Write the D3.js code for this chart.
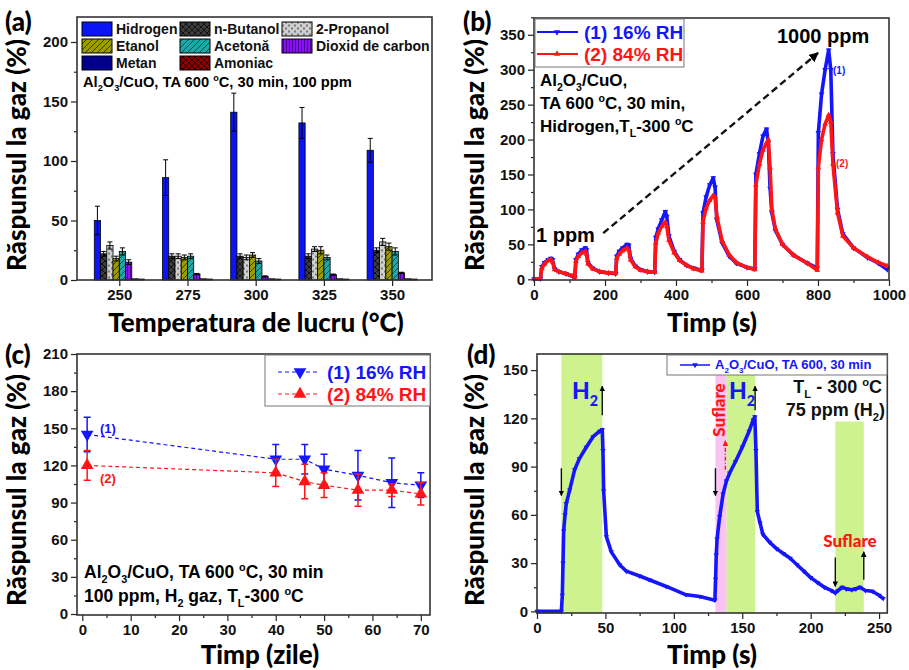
<!DOCTYPE html>
<html lang="ro">
<head>
<meta charset="utf-8"/>
<title>Raspunsul la gaz</title>
<script src="https://cdnjs.cloudflare.com/ajax/libs/d3/7.8.5/d3.min.js"></script>
<style>
  body {margin:0; background:#fff;}
  text {font-family:"Liberation Sans", Arial, sans-serif; font-weight:bold;}
  .ttl {font-family:Lato, "Open Sans", sans-serif; font-weight:900;}
</style>
</head>
<body>
<svg id="fig" width="909" height="670"></svg>
<script>
// ---- (a) raspuns vs temperatura
var temps = ["250","275","300","325","350"];
var gases = ["Hidrogen","n-Butanol","2-Propanol","Etanol","Acetonă","Dioxid de carbon","Metan","Amoniac"];
var hidrogen = [50, 86, 141, 132, 109],  hidrogenErr = [12, 15, 16, 13, 10];
var butanol  = [22, 20, 20, 20, 25],     butanolErr  = [2, 2, 2, 2, 2];
var propanol = [29, 20, 19, 26, 32],     propanolErr = [3, 2, 2, 2, 3];
var etanol   = [18, 19, 21, 25, 28],     etanolErr   = [2, 2, 2, 3, 3];
var acetona  = [24, 20, 16, 19, 24],     acetonaErr  = [3, 2, 2, 2, 3];
var co2      = [15, 5, 3, 4.5, 6],       co2Err      = [2, 0.5, 0.5, 0.5, 0.5];
var metan    = [1, 1, 1, 1, 1];
var amoniac  = [0.8, 0.8, 0.8, 0.8, 0.8];

// ---- (b) raspuns dinamic 1..1000 ppm
var bTime = [0,18,22,30,40,48,52,58,70,90,110,115,118,125,135,145,148,152,165,185,210,230,233,240,250,262,267,272,285,300,320,340,343,350,360,370,374,380,395,410,430,450,473,476,485,495,505,510,515,530,550,570,600,622,625,635,645,655,660,665,670,680,700,730,770,798,801,810,820,830,836,842,855,870,900,940,970,995];
var bRH16 = [0.5,1,18,24,28,30,28,15,11,8,4,3,28,36,42,45,42,24,16,11,9,8,33,40,45,50,49,30,19,14,11,10,60,72,85,97,90,62,40,28,20,16,13,95,118,135,145,132,85,52,33,23,17,15,150,180,205,215,195,130,95,70,50,35,23,16,210,265,300,328,300,180,100,65,45,31,23,14];
var bRH84 = [0.5,1,16,22,27,28,25,14,11,8,5,3,26,33,38,40,36,22,15,11,9,9,30,36,41,45,42,28,18,13,11,10,52,66,76,82,76,56,38,27,20,15,12,82,102,113,120,118,90,55,35,24,17,14,135,165,185,195,200,160,100,72,50,35,23,13,160,200,222,235,225,165,95,62,45,32,24,19];

// ---- (c) stabilitate in timp
var cDays = [1, 40, 46, 50, 57, 64, 70];
var cRH16 = [145, 125, 125, 117, 112, 106, 104], cRH16Err = [14, 12, 12, 12, 20, 20, 10];
var cRH84 = [120, 114, 107, 104, 100, 100, 97],  cRH84Err = [12, 11, 14, 10, 13, 5, 9];

// ---- (d) raspuns cu suflare
var dTime = [0,17.8,18.5,19,19.5,20.5,21.4,23.9,27.5,31,36,41,45.8,47.7,48.2,48.7,50.7,54.3,60.4,65.3,75,82,94.5,109,119,130,130.5,131,131.6,133.5,136,138.4,140.8,145,150,155,158,159.2,160,161,163,165,170,175,180,185,190,195,200,205,210,215,218,220,223,226,230,233,236,240,245,250,253];
var dResp = [0,0,10,30,50,60,67,75.5,88,95,102,108.6,112,113,100,75,46.5,37,29,25,22,19.7,15.5,10.3,9.3,7,20,35,45,59,73,81,86,93,102,112,119,121,100,62,55,48,43,39,36,33,29,25,21,18,15,13,11.5,13,15,14,13.5,14,15,13,12.5,10,8];
var dH2Start = [17.8, 138.4, 218], dH2End = [47.7, 159.4, 238.8], dH2Top = [160, 160, 118];
var dBlowStart = 130.4, dBlowEnd = 138.4;

var BLUE = "#1515ff", RED = "#ff1515";
var svg = d3.select("#fig");
var defs = svg.append("defs");

function pat(id, bg, ink, d) {
  var p = defs.append("pattern").attr("id", id).attr("patternUnits", "userSpaceOnUse")
    .attr("width", 6).attr("height", 6);
  p.append("rect").attr("width", 6).attr("height", 6).attr("fill", bg);
  p.append("path").attr("d", d).attr("stroke", ink).attr("stroke-width", 1).attr("fill", "none");
}
pat("pBut", "#3d3d3d", "#111", "M0,0L6,6M6,0L0,6");
pat("pProp", "#cfcfcf", "#7a7a7a", "M0,1.5H2M3,4.5H5M1,0V3M4,3V6");
pat("pEt", "#9c9c00", "#3c3c00", "M0,6L6,0M-1,1L1,-1M5,7L7,5");
pat("pAc", "#1fa6a6", "#0a5050", "M0,6L6,0M-1,1L1,-1M5,7L7,5");
pat("pCO2", "#8a12f2", "#4a0090", "M1.5,0V6M4.5,0V6");
pat("pAm", "#8c0000", "#300000", "M0,0L6,6M6,0L0,6");

["arB", "arR"].forEach(function(id, i) {
  defs.append("marker").attr("id", id).attr("viewBox", "0 0 10 10").attr("refX", 9).attr("refY", 5)
    .attr("markerWidth", 4).attr("markerHeight", 4).attr("orient", "auto-start-reverse")
    .append("path").attr("d", "M0,0L10,5L0,10z").attr("fill", i ? RED : "#000");
});

// text with sub/superscripts: parts = ["txt", ["2","sub"], ["o","sup"]]
function rich(g, x, y, parts, size, color, anchor, cls) {
  var t = g.append("text").attr("x", x).attr("y", y).style("font-size", size + "px")
    .attr("fill", color || "#000").attr("text-anchor", anchor || "start");
  if (cls) t.attr("class", cls);
  var shift = 0;
  parts.forEach(function(p) {
    var s = typeof p === "string" ? p : p[0];
    var kind = typeof p === "string" ? null : p[1];
    var target = kind === "sub" ? size * 0.3 : kind === "sup" ? -size * 0.4 : 0;
    var ts = t.append("tspan").attr("dy", target - shift).text(s);
    if (kind) ts.style("font-size", (size * 0.62) + "px");
    shift = target;
  });
  return t;
}

function axes(g, x, y, xMaj, xMin, yMaj, yMin, xFmt) {
  var x0 = x.range()[0], x1 = x.range()[1], y0 = y.range()[0], y1 = y.range()[1];
  function style(a) {
    a.select(".domain").remove();
    a.selectAll("line").attr("stroke", "#222").attr("stroke-width", 1.2);
    a.selectAll("text").style("font-size", "15px").attr("fill", "#111");
  }
  if (xMin) g.append("g").attr("transform", "translate(0," + y0 + ")")
    .call(d3.axisBottom(x).tickValues(xMin).tickSize(3).tickFormat("")).call(style);
  g.append("g").attr("transform", "translate(0," + y0 + ")")
    .call(d3.axisBottom(x).tickValues(xMaj).tickSize(6).tickPadding(3).tickFormat(xFmt || d3.format("d"))).call(style);
  g.append("g").attr("transform", "translate(" + x0 + ",0)")
    .call(d3.axisLeft(y).tickValues(yMin).tickSize(3).tickFormat("")).call(style);
  g.append("g").attr("transform", "translate(" + x0 + ",0)")
    .call(d3.axisLeft(y).tickValues(yMaj).tickSize(6).tickPadding(3).tickFormat(d3.format("d"))).call(style);
  g.append("rect").attr("x", x0).attr("y", y1).attr("width", x1 - x0).attr("height", y0 - y1)
    .attr("fill", "none").attr("stroke", "#333").attr("stroke-width", 1.6);
}

// yx, cy: centre of the vertical title; cx, xt: centre / baseline of the x title
function titles(g, cx, xt, yx, cy, label, xTitle) {
  g.append("text").attr("class", "ttl").attr("transform", "translate(" + yx + "," + cy + ") rotate(-90)")
    .attr("text-anchor", "middle").style("font-size", "26px").text("Răspunsul la gaz (%)");
  g.append("text").attr("class", "ttl").attr("x", cx).attr("y", xt).attr("text-anchor", "middle")
    .style("font-size", "26px").text(xTitle);
  g.append("text").attr("class", "ttl").attr("x", label[0]).attr("y", label[1])
    .style("font-size", "26px").text(label[2]);
}

function rng(a, b, s) { return d3.range(a, b + s / 2, s); }

// ================= (a)
(function() {
  var g = svg.append("g");
  var x = d3.scaleLinear().domain([-0.62, 4.585]).range([77, 432]);
  var y = d3.scaleLinear().domain([0, 221]).range([280, 17]);
  var series = [
    {v: hidrogen, e: hidrogenErr, f: "#0a14f5"},
    {v: butanol, e: butanolErr, f: "url(#pBut)"},
    {v: propanol, e: propanolErr, f: "url(#pProp)"},
    {v: etanol, e: etanolErr, f: "url(#pEt)"},
    {v: acetona, e: acetonaErr, f: "url(#pAc)"},
    {v: co2, e: co2Err, f: "url(#pCO2)"},
    {v: metan, e: null, f: "#00008c"},
    {v: amoniac, e: null, f: "url(#pAm)"}
  ];
  var bw = 6.25;
  series.forEach(function(s, j) {
    temps.forEach(function(t, i) {
      var bx = x(i) - 25 + j * bw;
      g.append("rect").attr("x", bx).attr("y", y(s.v[i])).attr("width", bw)
        .attr("height", y(0) - y(s.v[i])).attr("fill", s.f).attr("stroke", "#000").attr("stroke-width", 0.8);
      if (s.e) {
        var cx = bx + bw / 2, lo = y(s.v[i] - s.e[i]), hi = y(s.v[i] + s.e[i]);
        g.append("path").attr("d", "M" + cx + "," + lo + "V" + hi + "M" + (cx - 2.5) + "," + hi + "h5M" + (cx - 2.5) + "," + lo + "h5")
          .attr("stroke", "#000").attr("stroke-width", 1).attr("fill", "none");
      }
    });
  });
  axes(g, x, y, d3.range(5), null, rng(0, 200, 50), rng(25, 200, 50), function(d) { return temps[d]; });
  // legend
  var colX = [82, 180, 282], rowY = [22, 39, 56];
  gases.forEach(function(name, k) {
    var lx = colX[k % 3], ly = rowY[Math.floor(k / 3)];
    g.append("rect").attr("x", lx).attr("y", ly).attr("width", 30).attr("height", 14)
      .attr("fill", series[k].f).attr("stroke", "#000").attr("stroke-width", 1);
    g.append("text").attr("x", lx + 34).attr("y", ly + 12).style("font-size", "14px").attr("fill", "#111").text(name);
  });
  rich(g, 83, 87, ["Al", ["2", "sub"], "O", ["3", "sub"], "/CuO, TA 600 ", ["o", "sup"], "C, 30 min, 100 ppm"], 14.7);
  titles(g, 256, 332, 26, 155, [5, 31, "(a)"], "Temperatura de lucru (°C)");
})();

// ================= (b)
(function() {
  var g = svg.append("g");
  var x = d3.scaleLinear().domain([0, 1000]).range([534, 889]);
  var y = d3.scaleLinear().domain([-1, 374]).range([280, 18]);
  var line = d3.line().x(function(d, i) { return x(bTime[i]); }).y(function(d) { return y(d); });
  [[bRH16, BLUE, 180], [bRH84, RED, 0]].forEach(function(s) {
    g.append("path").attr("d", line(s[0])).attr("fill", "none").attr("stroke", s[1])
      .attr("stroke-width", 3.6).attr("stroke-linejoin", "round");
    g.selectAll(null).data(s[0]).enter().append("path")
      .attr("d", d3.symbol(d3.symbolTriangle, 14))
      .attr("transform", function(d, i) { return "translate(" + x(bTime[i]) + "," + y(d) + ") rotate(" + s[2] + ")"; })
      .attr("fill", s[1]);
  });
  axes(g, x, y, rng(0, 1000, 200), rng(100, 900, 200), rng(0, 350, 50), rng(25, 375, 50));
  // arrow 1 ppm -> 1000 ppm
  g.append("line").attr("x1", x(195)).attr("y1", y(66)).attr("x2", x(800)).attr("y2", y(324))
    .attr("stroke", "#111").attr("stroke-width", 2.4).attr("stroke-dasharray", "7,4").attr("marker-end", "url(#arB)");
  g.append("text").attr("x", 536).attr("y", 242).style("font-size", "20px").text("1 ppm");
  g.append("text").attr("x", 777).attr("y", 43).style("font-size", "20px").text("1000 ppm");
  g.append("text").attr("x", 833).attr("y", 74).style("font-size", "10px").attr("fill", BLUE).text("(1)");
  g.append("text").attr("x", 836).attr("y", 167).style("font-size", "10px").attr("fill", RED).text("(2)");
  rich(g, 540, 86, ["Al", ["2", "sub"], "O", ["3", "sub"], "/CuO,"], 17);
  rich(g, 540, 109, ["TA 600 ", ["o", "sup"], "C, 30 min,"], 17);
  rich(g, 540, 132, ["Hidrogen,T", ["L", "sub"], "-300 ", ["o", "sup"], "C"], 17);
  // legend
  g.append("rect").attr("x", 535).attr("y", 19).attr("width", 149).attr("height", 48)
    .attr("fill", "#fff").attr("stroke", "#777").attr("stroke-width", 1);
  [["(1) 16% RH", BLUE, 180, 32], ["(2) 84% RH", RED, 0, 54]].forEach(function(e) {
    g.append("line").attr("x1", 537).attr("x2", 578).attr("y1", e[3]).attr("y2", e[3]).attr("stroke", e[1]).attr("stroke-width", 2);
    g.append("path").attr("d", d3.symbol(d3.symbolTriangle, 18)).attr("transform", "translate(557," + e[3] + ") rotate(" + e[2] + ")").attr("fill", e[1]);
    g.append("text").attr("x", 584).attr("y", e[3] + 7).style("font-size", "19px").attr("fill", e[1]).text(e[0]);
  });
  titles(g, 712, 332, 484, 155, [463, 31, "(b)"], "Timp (s)");
})();

// ================= (c)
(function() {
  var g = svg.append("g");
  var x = d3.scaleLinear().domain([-1.1, 71.9]).range([77, 430]);
  var y = d3.scaleLinear().domain([-0.8, 210]).range([615, 354]);
  [[cRH16, cRH16Err, BLUE, 180], [cRH84, cRH84Err, RED, 0]].forEach(function(s) {
    g.append("path").attr("d", d3.line().x(function(d, i) { return x(cDays[i]); }).y(function(d) { return y(d); })(s[0]))
      .attr("fill", "none").attr("stroke", s[2]).attr("stroke-width", 1.2).attr("stroke-dasharray", "4,3");
    s[0].forEach(function(v, i) {
      var cx = x(cDays[i]), lo = y(v - s[1][i]), hi = y(v + s[1][i]);
      g.append("path").attr("d", "M" + cx + "," + lo + "V" + hi + "M" + (cx - 3.5) + "," + hi + "h7M" + (cx - 3.5) + "," + lo + "h7")
        .attr("stroke", s[2]).attr("stroke-width", 1.5).attr("fill", "none");
    });
    g.selectAll(null).data(s[0]).enter().append("path")
      .attr("d", d3.symbol(d3.symbolTriangle, 70))
      .attr("transform", function(d, i) { return "translate(" + x(cDays[i]) + "," + y(d) + ") rotate(" + s[3] + ")"; })
      .attr("fill", s[2]);
  });
  axes(g, x, y, rng(0, 70, 10), rng(5, 65, 10), rng(0, 210, 30), rng(15, 195, 30));
  g.append("text").attr("x", 100).attr("y", 433).style("font-size", "13px").attr("fill", BLUE).text("(1)");
  g.append("text").attr("x", 100).attr("y", 483).style("font-size", "13px").attr("fill", RED).text("(2)");
  rich(g, 84, 578, ["Al", ["2", "sub"], "O", ["3", "sub"], "/CuO, TA 600 ", ["o", "sup"], "C, 30 min"], 17.5);
  rich(g, 84, 602, ["100 ppm, H", ["2", "sub"], " gaz, T", ["L", "sub"], "-300 ", ["o", "sup"], "C"], 17.5);
  // legend
  g.append("rect").attr("x", 265).attr("y", 355).attr("width", 165).attr("height", 51)
    .attr("fill", "#fff").attr("stroke", "#777").attr("stroke-width", 1);
  [["(1) 16% RH", BLUE, 180, 372], ["(2) 84% RH", RED, 0, 394]].forEach(function(e) {
    g.append("line").attr("x1", 278).attr("x2", 318).attr("y1", e[3]).attr("y2", e[3]).attr("stroke", e[1])
      .attr("stroke-width", 1.2).attr("stroke-dasharray", "4,3");
    g.append("path").attr("d", d3.symbol(d3.symbolTriangle, 70)).attr("transform", "translate(300," + e[3] + ") rotate(" + e[2] + ")").attr("fill", e[1]);
    g.append("text").attr("x", 327).attr("y", e[3] + 7).style("font-size", "19px").attr("fill", e[1]).text(e[0]);
  });
  titles(g, 260, 664, 26, 490, [5, 364, "(c)"], "Timp (zile)");
})();

// ================= (d)
(function() {
  var g = svg.append("g");
  var x = d3.scaleLinear().domain([0, 256]).range([537, 887.3]);
  var y = d3.scaleLinear().domain([-1, 160]).range([613, 354]);
  dH2Start.forEach(function(s, i) {
    g.append("rect").attr("x", x(s)).attr("width", x(dH2End[i]) - x(s)).attr("y", y(dH2Top[i]))
      .attr("height", y(-1) - y(dH2Top[i])).attr("fill", "#cdf28e");
  });
  g.append("rect").attr("x", x(dBlowStart)).attr("width", x(dBlowEnd) - x(dBlowStart)).attr("y", y(160))
    .attr("height", y(-1) - y(160)).attr("fill", "#f9c3f3");
  g.append("path").attr("d", d3.line().x(function(d, i) { return x(dTime[i]); }).y(function(d) { return y(d); })(dResp))
    .attr("fill", "none").attr("stroke", BLUE).attr("stroke-width", 3.6).attr("stroke-linejoin", "round");
  g.selectAll(null).data(dResp).enter().append("path")
    .attr("d", d3.symbol(d3.symbolTriangle, 12))
    .attr("transform", function(d, i) { return "translate(" + x(dTime[i]) + "," + y(d) + ") rotate(180)"; })
    .attr("fill", BLUE);
  axes(g, x, y, rng(0, 250, 50), rng(25, 225, 50), rng(0, 150, 30), rng(15, 150, 30));
  // arrows: [t, from, to]
  [[17.8, 89, 72], [47.7, 122, 140], [130.4, 89, 72], [159.4, 125, 140], [218, 33.5, 15.5], [238.8, 19.6, 37]].forEach(function(a) {
    g.append("line").attr("x1", x(a[0])).attr("x2", x(a[0])).attr("y1", y(a[1])).attr("y2", y(a[2]))
      .attr("stroke", "#111").attr("stroke-width", 1.4).attr("marker-end", "url(#arB)");
  });
  g.append("line").attr("x1", x(138.4) - 1).attr("x2", x(138.4) - 1).attr("y1", y(88)).attr("y2", y(106))
    .attr("stroke", RED).attr("stroke-width", 1.4).attr("stroke-dasharray", "4,2,1,2").attr("marker-end", "url(#arR)");
  rich(g, 572, 399, ["H", ["2", "sub"]], 23, BLUE, "start", "ttl");
  rich(g, 729, 399, ["H", ["2", "sub"]], 23, BLUE, "start", "ttl");
  g.append("text").attr("class", "ttl").attr("transform", "translate(725,410) rotate(-90)").attr("text-anchor", "middle")
    .style("font-size", "17px").attr("fill", RED).text("Suflare");
  g.append("text").attr("class", "ttl").attr("x", 850).attr("y", 547).attr("text-anchor", "middle")
    .style("font-size", "17px").attr("fill", RED).text("Suflare");
  rich(g, 882, 393, ["T", ["L", "sub"], " - 300 ", ["o", "sup"], "C"], 18, "#111", "end");
  rich(g, 885, 416, ["75 ppm (H", ["2", "sub"], ")"], 18, "#111", "end");
  // legend
  g.append("rect").attr("x", 667).attr("y", 355).attr("width", 220).attr("height", 20)
    .attr("fill", "#fff").attr("stroke", "#777").attr("stroke-width", 1);
  g.append("line").attr("x1", 680).attr("x2", 710).attr("y1", 365).attr("y2", 365).attr("stroke", BLUE).attr("stroke-width", 1.5);
  g.append("path").attr("d", d3.symbol(d3.symbolTriangle, 14)).attr("transform", "translate(695,365) rotate(180)").attr("fill", BLUE);
  rich(g, 715, 369, ["A", ["2", "sub"], "O", ["3", "sub"], "/CuO, TA 600, 30 min"], 13, BLUE);
  titles(g, 712, 664, 484, 490, [467, 364, "(d)"], "Timp (s)");
})();
</script>
</body>
</html>
